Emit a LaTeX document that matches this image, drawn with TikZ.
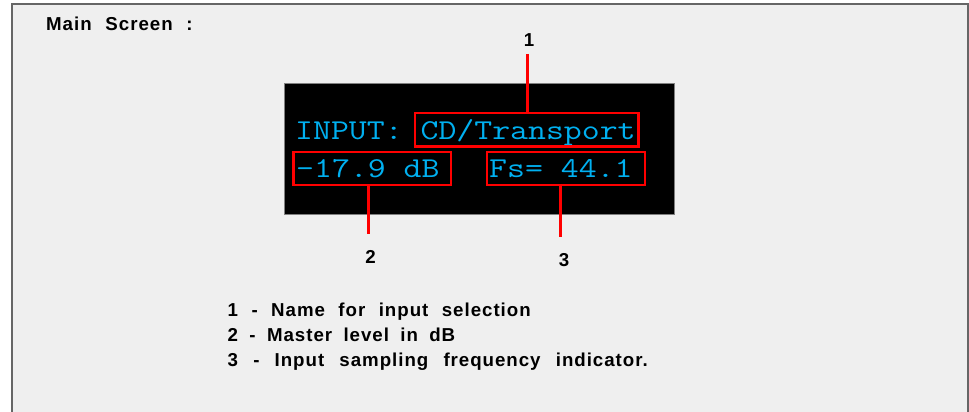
\documentclass[tikz,border=0pt]{standalone}
\usepackage{fontspec}
\setmainfont{Liberation Sans}
\newfontfamily\lcdfont[FakeStretch=1.208]{Latin Modern Mono}
\newfontfamily\labfont[LetterSpace=5.2]{Liberation Sans Bold}
\definecolor{bgcol}{RGB}{239,239,239}
\definecolor{framecol}{RGB}{102,102,102}
\definecolor{dispborder}{RGB}{128,128,128}
\definecolor{lcdcyan}{RGB}{0,176,240}
\definecolor{markred}{RGB}{255,0,0}
\tikzset{
  frame/.style={fill=bgcol, draw=framecol, line width=1.6pt},
  display/.style={rectangle, fill=black, draw=dispborder, line width=1pt, inner sep=0pt},
  redbox/.style={rectangle, draw=markred, line width=2.6pt, inner sep=0pt},
  redline/.style={draw=markred, line width=2.6pt},
  lcd/.style={inner sep=0pt, text=lcdcyan, font=\lcdfont\fontsize{28.8}{32}\selectfont},
  num/.style={inner sep=0pt, font=\labfont\fontsize{18.7}{22}\selectfont},
  listtext/.style={inner sep=0pt, anchor=base west, font=\labfont\fontsize{18.7}{22}\selectfont}
}
\begin{document}
\begin{tikzpicture}[x=1pt,y=-1pt]
\useasboundingbox (0,0) rectangle (969,412);
\clip (0,0) rectangle (969,412);
\fill[white] (0,0) rectangle (969,412);
\path[frame] (11.7,4) rectangle (968.2,440);
% title
\node[listtext] (title) at (46,30.7) {\spaceskip=3pt plus 1fil\hbox to 146.5pt{Main Screen :}};
% display
\node[display, minimum width=390pt, minimum height=130.7pt] (disp) at (479,148.65) {};
\node[lcd, anchor=base west] (l1) at (295,139) {INPUT: CD/Transport};
\node[lcd, anchor=base west] (l2) at (296,177) {-17.9 dB};
\node[lcd, anchor=base west] (l3) at (489,177) {Fs= 44.1};
% red boxes
\node[redbox, minimum width=223.5pt, minimum height=33.5pt] (b1) at (526.75,129.75) {};
\node[redbox, minimum width=157.5pt, minimum height=33pt] (b2) at (372.25,168.5) {};
\node[redbox, minimum width=158pt, minimum height=33pt] (b3) at (566,168.5) {};
% connectors
\coordinate (t1) at (527.5,54);
\coordinate (t2) at (368.5,234);
\coordinate (t3) at (560.5,237);
\draw[redline] (t1) -- (t1 |- b1.north);
\draw[redline] (t2 |- b2.south) -- (t2);
\draw[redline] (t3 |- b3.south) -- (t3);
% labels
\node[num] (n1) at (529,40) {1};
\node[num] (n2) at (370.5,256.7) {2};
\node[num] (n3) at (564,260) {3};
% legend
\node[listtext] (i1) at (227.5,316) {\spaceskip=3pt plus 1fil\hbox to 303pt{1 - Name for input selection}};
\node[listtext] (i2) at (227.5,341) {\spaceskip=3pt plus 1fil\hbox to 227.5pt{2 - Master level in dB}};
\node[listtext] (i3) at (227.5,366) {\spaceskip=3pt plus 1fil\hbox to 420pt{3 - Input sampling frequency indicator.}};
\end{tikzpicture}
\end{document}
